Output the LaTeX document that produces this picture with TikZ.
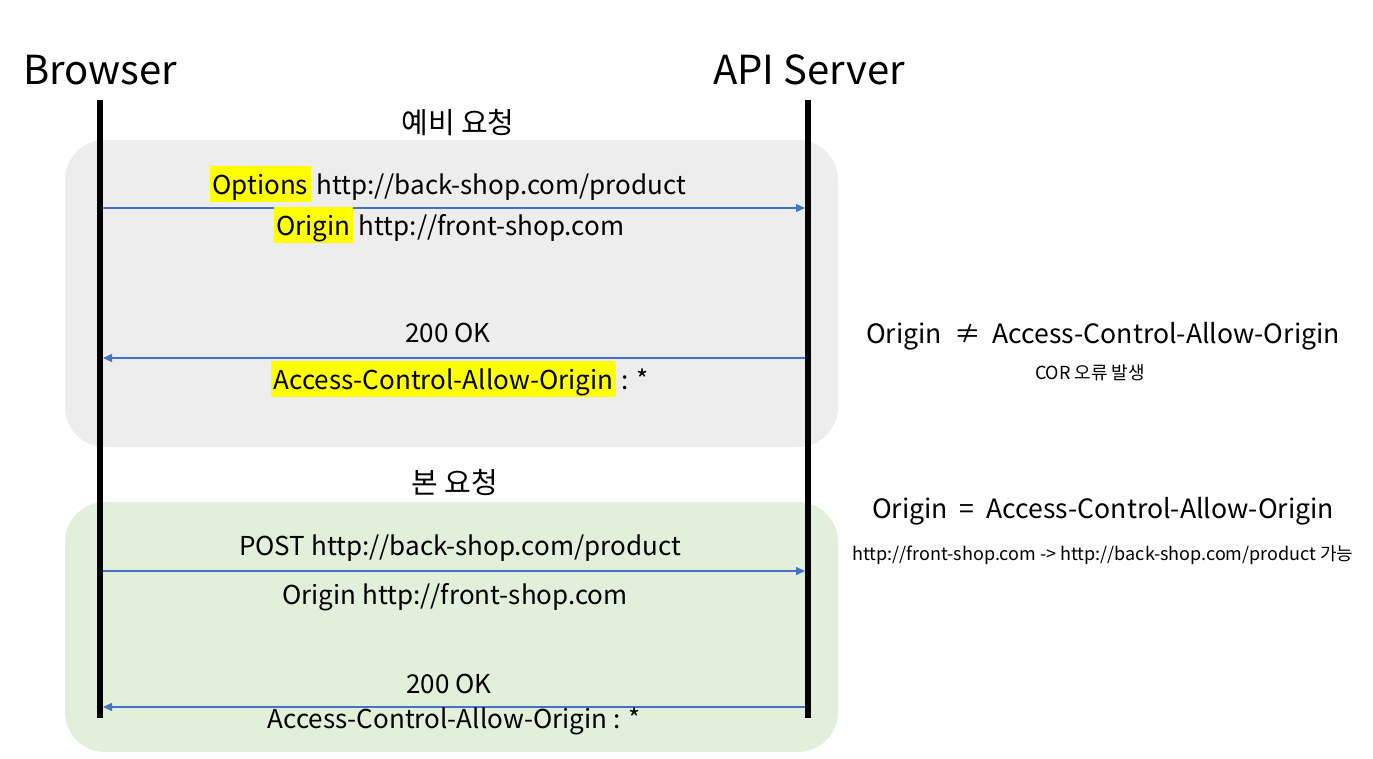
\documentclass[tikz,border=0pt]{standalone}
\usepackage{fontspec}
\setmainfont{Noto Sans CJK KR}
\usetikzlibrary{arrows.meta}
\newcommand{\hlword}[1]{{\setlength{\fboxsep}{0pt}\colorbox{hlyellow}{\hspace{2.5pt}\rule[-0.3em]{0pt}{1.4em}#1\hspace{2.5pt}}}}
\definecolor{hlyellow}{HTML}{FFFF00}
\definecolor{msgblue}{HTML}{4472C4}
\definecolor{preflight}{HTML}{EDEDED}
\definecolor{mainreq}{HTML}{E2EFDA}

\begin{document}
\begin{tikzpicture}[
    x=1pt, y=-1pt,
    actor/.style={font=\fontsize{40}{44}\selectfont, inner sep=0pt},
    phase/.style={rounded corners=40pt, draw=none},
    title/.style={font=\fontsize{29}{34}\selectfont, inner sep=0pt},
    label/.style={font=\fontsize{26}{31}\selectfont, inner sep=0pt},
    cond/.style={font=\fontsize{26.6}{32}\selectfont, inner sep=0pt},
    note/.style={font=\fontsize{18}{22}\selectfont, inner sep=0pt},
    lifeline/.style={line width=6pt},
    msg/.style={-{Triangle[length=9pt, width=8pt]}, draw=msgblue, line width=1.3pt}
]
\useasboundingbox (0,0) rectangle (1373,758);

\fill[phase, fill=preflight] (65,140) rectangle (838,447);
\fill[phase, fill=mainreq] (65,502) rectangle (838,752);

\node[actor] (browser) at (100,70) {Browser};
\node[actor] (server) at (809,70) {API Server};

\coordinate (btop) at (100,100);
\coordinate (bbot) at (100,718);
\coordinate (stop) at (808,100);
\coordinate (sbot) at (808,718);
\draw[lifeline] (btop) -- (bbot);
\draw[lifeline] (stop) -- (sbot);

\node[title] (pre) at (458,123) {예비 요청};
\node[title] (main) at (455,483) {본 요청};

% preflight
\coordinate (b1) at (103,208);
\coordinate (s1) at (805,208);
\coordinate (b2) at (103,358);
\coordinate (s2) at (805,358);
\draw[msg] (b1) -- (s1);
\draw[msg] (s2) -- (b2);
\node[label] (opt) at (448,184) {\hlword{Options} http://back-shop.com/product};
\node[label] (origin1) at (449,225) {\hlword{Origin} http://front-shop.com};
\node[label] (ok1) at (448,333) {200 OK};
\node[label] (acao1) at (460,379) {\hlword{Access-Control-Allow-Origin} : *};

% main request
\coordinate (b3) at (103,571);
\coordinate (s3) at (805,571);
\coordinate (b4) at (103,707);
\coordinate (s4) at (805,707);
\draw[msg] (b3) -- (s3);
\draw[msg] (s4) -- (b4);
\node[label] (post) at (460,548) {POST http://back-shop.com/product};
\node[label] (origin2) at (455,597) {Origin http://front-shop.com};
\node[label] (ok2) at (449,684) {200 OK};
\node[label] (acao2) at (454,721) {Access-Control-Allow-Origin : *};

\node[cond] (neq) at (1103,336) {Origin\hspace{0.45em}≠\hspace{0.45em}Access-Control-Allow-Origin};
\node[note] (err) at (1090,373) {COR 오류 발생};
\node[cond] (eq) at (1103,511) {Origin\hspace{0.45em}=\hspace{0.45em}Access-Control-Allow-Origin};
\node[note] (ok) at (1103,555) {http://front-shop.com -> http://back-shop.com/product 가능};
\end{tikzpicture}
\end{document}
